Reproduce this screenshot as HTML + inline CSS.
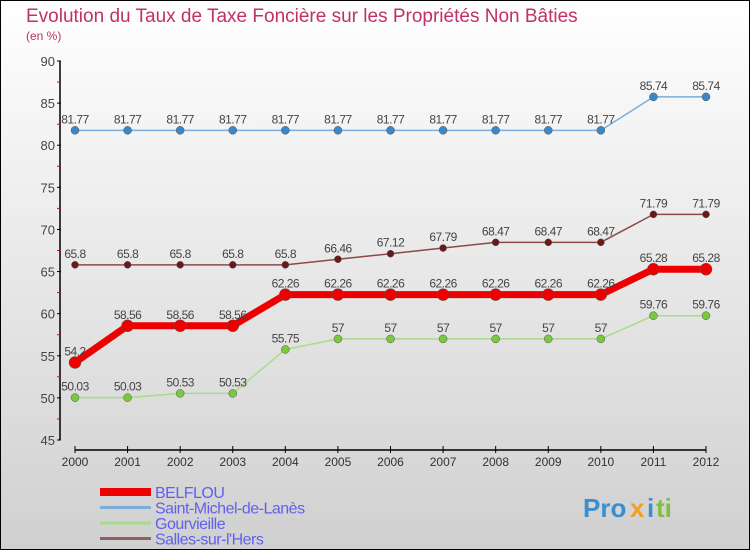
<!DOCTYPE html>
<html><head><meta charset="utf-8"><style>
html,body{margin:0;padding:0}
body{width:750px;height:550px;overflow:hidden;font-family:"Liberation Sans",sans-serif}
</style></head><body>
<svg id="chart" width="750" height="550" xmlns="http://www.w3.org/2000/svg">
<defs><linearGradient id="bg" x1="0" y1="0" x2="0" y2="1"><stop offset="0" stop-color="#ffffff"/><stop offset="1" stop-color="#d0d0d0"/></linearGradient></defs>
<rect x="0.5" y="0.5" width="749" height="549" fill="url(#bg)" stroke="#000"/>
<text x="26" y="22" font-size="19" fill="#c0306a">Evolution du Taux de Taxe Foncière sur les Propriétés Non Bâties</text>
<text x="26" y="40" font-size="12" fill="#c0306a">(en %)</text>
<g id="axes"></g>
<g id="series"></g>
<g id="legend"></g>
<g font-size="26" font-weight="bold">
<text x="583" y="517" fill="#3a8fd0">Pro</text><text x="630" y="517" fill="#f0a020">x</text><text x="647" y="517" fill="#3a8fd0">i</text><text x="656" y="517" fill="#80c040">ti</text>
</g>
</svg>
<script>
const years=["2000","2001","2002","2003","2004","2005","2006","2007","2008","2009","2010","2011","2012"];
const yTicks=[45,50,55,60,65,70,75,80,85,90];
const belflou=[54.2,58.56,58.56,58.56,62.26,62.26,62.26,62.26,62.26,62.26,62.26,65.28,65.28];
const saintMichel=[81.77,81.77,81.77,81.77,81.77,81.77,81.77,81.77,81.77,81.77,81.77,85.74,85.74];
const gourvieille=[50.03,50.03,50.53,50.53,55.75,57,57,57,57,57,57,59.76,59.76];
const salles=[65.8,65.8,65.8,65.8,65.8,66.46,67.12,67.79,68.47,68.47,68.47,71.79,71.79];
const NS="http://www.w3.org/2000/svg";
const x=i=>75+i*(706-75)/12;
const y=v=>440-(v-45)*(440-61)/45;
function mk(t,a,p){const e=document.createElementNS(NS,t);for(const k in a)e.setAttribute(k,a[k]);p.appendChild(e);return e;}
const ax=document.getElementById('axes');
const yl=mk('line',{x1:60,y1:61,x2:60,y2:440,stroke:'#000','stroke-width':1.5},ax);


const xl=mk('line',{x1:75,y1:450,x2:706,y2:450,stroke:'#000','stroke-width':1.5},ax);


yTicks.forEach(v=>{
  mk('line',{x1:57,y1:y(v),x2:61,y2:y(v),stroke:'#000'},ax);
  if(v<90)mk('line',{x1:57,y1:y(v+2.5),x2:60,y2:y(v+2.5),stroke:'#e00'},ax);
  const t=mk('text',{x:55,y:y(v)+5,'text-anchor':'end','font-size':13,fill:'#444'},ax);t.textContent=v;
  
  
});
years.forEach((yr,i)=>{
  mk('line',{x1:x(i),y1:446,x2:x(i),y2:453,stroke:'#000'},ax);
  const t=mk('text',{x:x(i),y:466,'text-anchor':'middle','font-size':12,fill:'#333'},ax);t.textContent=yr;
  
  
});
const sg=document.getElementById('series');
function series(name,data,color,dot,w,r,labelColor){
  const g=mk('g',{},sg);
  
  
  mk('polyline',{points:data.map((v,i)=>x(i)+','+y(v)).join(' '),fill:'none',stroke:color,'stroke-width':w,'stroke-linejoin':'round'},g);
  data.forEach((v,i)=>{
    const c=mk('circle',{cx:x(i),cy:y(v),r:r,fill:dot,stroke:'#555','stroke-width':0.5},g);
    
    
    const t=mk('text',{x:x(i),y:y(v)-7,'text-anchor':'middle','font-size':12,fill:'#444','letter-spacing':'-0.5'},g);
    t.textContent=String(v).replace('.','.');
    
    
  });
}
series('saint-michel-series',saintMichel,'#7aaedc','#3a88c8',1.5,4);
series('salles-series',salles,'#8a4a4a','#6a1818',1.5,3.5);
series('gourvieille-series',gourvieille,'#a8dc88','#78c840',1.5,4);
series('belflou-series',belflou,'#ee0000','#ee0000',7,6);
const lg=document.getElementById('legend');
[['BELFLOU','#ee0000',8],['Saint-Michel-de-Lanès','#7aaedc',3],['Gourvieille','#a8dc88',3],['Salles-sur-l\'Hers','#906060',3]].forEach((d,i)=>{
  const yy=492+i*15.5;
  const g=mk('g',{},lg);
  
  
  mk('line',{x1:100,y1:yy,x2:151,y2:yy,stroke:d[1],'stroke-width':d[2]},g);
  const t=mk('text',{x:155,y:yy+6,'font-size':16,fill:'#6060f0','letter-spacing':'-0.5'},g);t.textContent=d[0];
});
</script>
</body></html>
